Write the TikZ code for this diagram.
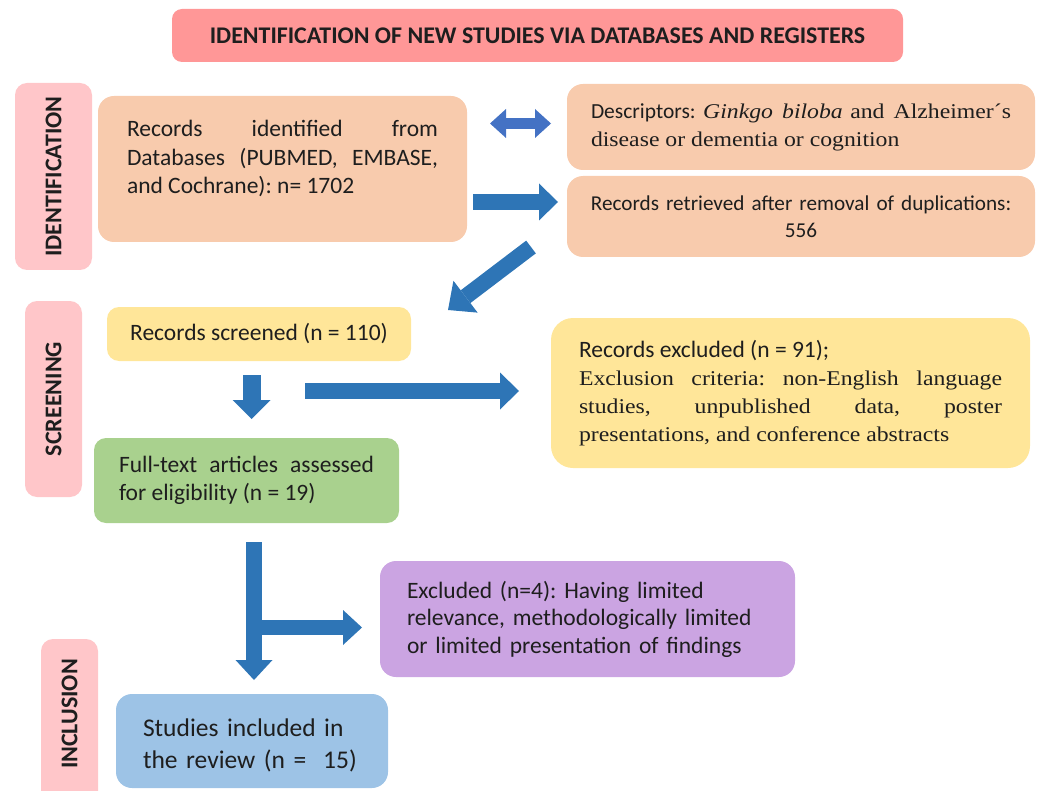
\documentclass[tikz,border=0pt]{standalone}
\usepackage{fontspec}
\setmainfont{Carlito}
\newfontfamily\serifx[FakeStretch=1.13]{Liberation Serif}
\usetikzlibrary{arrows.meta}
\definecolor{titlepink}{HTML}{FF9797}
\definecolor{sidepink}{HTML}{FFC6C9}
\definecolor{boxorange}{HTML}{F8CBAD}
\definecolor{boxyellow}{HTML}{FFE699}
\definecolor{boxgreen}{HTML}{A9D18E}
\definecolor{boxpurple}{HTML}{CBA4E2}
\definecolor{boxblue}{HTML}{9DC3E6}
\definecolor{arrowblue}{HTML}{2E75B6}
\definecolor{arrowlight}{HTML}{4472C4}
\definecolor{txt}{HTML}{1E1E1E}
\frenchspacing
\begin{document}
\begin{tikzpicture}[x=1pt,y=-1pt,
  box/.style={rounded corners=16pt, inner ysep=0pt, text=txt},
  fs/.style={font=\fontsize{23.5}{28.5}\selectfont},
  sidelab/.style={box, fill=sidepink, rounded corners=12pt, font=\bfseries\fontsize{24}{28}\selectfont},
  blockarrow/.style={draw=arrowblue, line width=16pt, -{Triangle[width=37pt,length=19pt,line width=0pt]}},
]
\useasboundingbox (0,0) rectangle (1040,791);
\frenchspacing

% title
\node[box, fill=titlepink, minimum width=731, minimum height=53, rounded corners=10pt,
      font=\bfseries\fontsize{23.9}{28}\selectfont] (title) at (537.5,35.5)
  {IDENTIFICATION OF NEW STUDIES VIA DATABASES AND REGISTERS};

% side labels
\node[sidelab, rotate=90, minimum width=187, minimum height=77] (idlab) at (53.5,176.5) {IDENTIFICATION};
\node[sidelab, rotate=90, minimum width=196, minimum height=57] (scrlab) at (53.5,399) {SCREENING};
\node[sidelab, minimum width=57, minimum height=176] (inclab) at (69.5,727) {};
\node[rotate=90, text=txt, font=\bfseries\fontsize{24}{28}\selectfont] (inclabtext) at (69.5,714) {INCLUSION};

% identification boxes
\node[box, fill=boxorange, minimum width=369, minimum height=146] (recid) at (282.5,169) {};
\node[fs, text=txt, text width=311, align=justify, inner sep=0pt] (recidtext) at (282.5,158.5)
  {Records identified from\linebreak Databases (PUBMED, EMBASE,\linebreak and Cochrane): n= 1702};

\node[box, fill=boxorange, minimum width=468, minimum height=86, text width=420, inner xsep=24,
      align=justify, font=\fontsize{21.5}{28}\selectfont] (desc) at (801,127)
  {Descriptors: {\serifx\fontsize{21}{28}\selectfont\itshape Ginkgo biloba} {\serifx\fontsize{21}{28}\selectfont and Alzheimer´s}\linebreak
   {\serifx\fontsize{21}{28}\selectfont disease or dementia or cognition}};

\node[box, fill=boxorange, minimum width=468, minimum height=81, text width=450, inner xsep=9,
      align=center, font=\fontsize{21.2}{27}\selectfont] (retr) at (801,216.5)
  {Records retrieved after removal of duplications:\\556};

% screening boxes
\node[box, fs, fill=boxyellow, minimum width=304, minimum height=54, rounded corners=12pt] (scr) at (259,334)
  {Records screened (n = 110)};

\node[box, fill=boxyellow, minimum width=479, minimum height=150, text width=423, inner xsep=28,
      align=justify, font=\fontsize{23.5}{28}\selectfont, rounded corners=22pt] (excl) at (790.5,393)
  {Records excluded (n = 91);\\
   {\serifx\fontsize{21}{28}\selectfont Exclusion criteria: non-English language\linebreak
   studies, unpublished data, poster\linebreak
   presentations, and conference abstracts}};

\node[box, fs, fill=boxgreen, minimum width=305, minimum height=85, text width=255, inner xsep=25,
      align=justify, rounded corners=12pt] (full) at (246.5,480.5)
  {Full-text articles assessed\linebreak for eligibility (n = 19)};

% inclusion boxes
\node[box, fill=boxpurple, minimum width=415, minimum height=116, text width=361, inner xsep=27,
      align=left, font=\fontsize{23.5}{27.5}\selectfont] (excl4) at (587.5,619)
  {Excluded (n=4): Having limited\\relevance, methodologically limited\\or limited presentation of findings};

\node[box, fill=boxblue, minimum width=272, minimum height=94, text width=218, inner xsep=27,
      align=left, font=\fontsize{25.5}{32}\selectfont] (stud) at (252,741) {};
\node[text=txt, text width=218, inner sep=0pt, align=left, font=\fontsize{25.5}{32}\selectfont] (studtext) at (252,745)
  {\mbox{Studies included in}\\\mbox{the review (n = \ 15)}};

% arrow coordinates
\coordinate (d1) at (490,123.5);
\coordinate (d2) at (551,123.5);
\coordinate (a1s) at (473,202);
\coordinate (a1e) at (558,202);
\coordinate (a2s) at (531,247);
\coordinate (a2e) at (448,310);
\coordinate (a3s) at (251.5,375);
\coordinate (a3e) at (251.5,419);
\coordinate (a4s) at (305,391);
\coordinate (a4e) at (519,391);
\coordinate (a5s) at (254,542);
\coordinate (a5e) at (254,680);
\coordinate (a6s) at (262,627.5);
\coordinate (a6e) at (362,627.5);

% arrows
\draw[draw=arrowlight, line width=11pt,
      {Triangle[width=29pt,length=16pt,line width=0pt]}-{Triangle[width=29pt,length=16pt,line width=0pt]}] (d1) -- (d2);
\draw[blockarrow] (a1s) -- (a1e);
\draw[blockarrow, -{Triangle[width=40pt,length=22pt,line width=0pt]}] (a2s) -- (a2e);
\draw[blockarrow, line width=18pt, -{Triangle[width=38pt,length=19pt,line width=0pt]}] (a3s) -- (a3e);
\draw[blockarrow] (a4s) -- (a4e);
\draw[blockarrow, -{Triangle[width=37pt,length=20pt,line width=0pt]}] (a5s) -- (a5e);
\draw[blockarrow, line width=15pt, -{Triangle[width=35pt,length=19pt,line width=0pt]}] (a6s) -- (a6e);
\end{tikzpicture}
\end{document}
